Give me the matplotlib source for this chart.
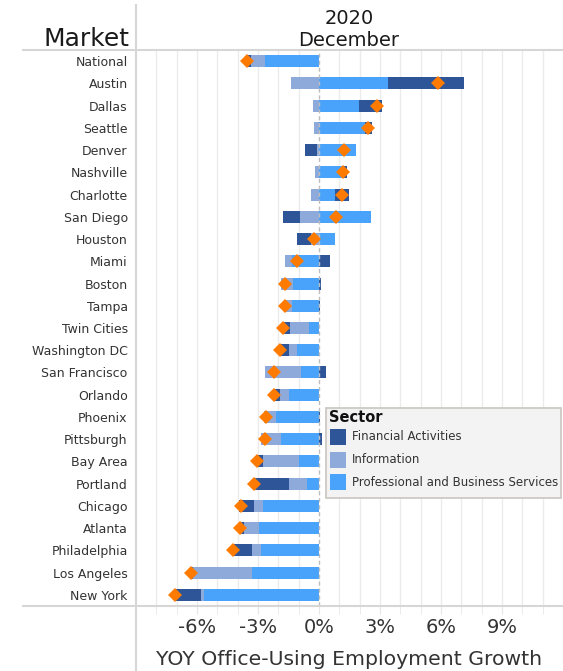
import matplotlib
matplotlib.use("Agg")
import matplotlib.pyplot as plt
import numpy as np
from matplotlib.lines import Line2D
from matplotlib.patches import Rectangle

markets = ["National", "Austin", "Dallas", "Seattle", "Denver", "Nashville", "Charlotte",
           "San Diego", "Houston", "Miami", "Boston", "Tampa", "Twin Cities", "Washington DC",
           "San Francisco", "Orlando", "Phoenix", "Pittsburgh", "Bay Area", "Portland",
           "Chicago", "Atlanta", "Philadelphia", "Los Angeles", "New York"]
fin_act = [-0.20, 3.74, 1.13, 0.34, -0.59, 0.23, 0.69, -0.84, -0.69, 0.56, 0.12, 0.07, -0.34,
           -0.44, 0.36, -0.30, 0.07, 0.16, -0.34, -1.72, -0.74, -0.25, -0.98, -0.15, -1.33]
information = [-0.69, -1.36, -0.28, -0.23, -0.08, -0.18, -0.38, -0.92, -0.38, -0.34, -0.59, -0.39,
               -0.93, -0.39, -1.77, -0.44, -0.59, -0.98, -1.77, -0.89, -0.44, -0.74, -0.44, -2.90, -0.15]
prof_bus = [-2.64, 3.41, 1.98, 2.28, 1.84, 1.16, 0.80, 2.57, 0.80, -1.31, -1.26, -1.31, -0.48,
            -1.07, -0.87, -1.46, -2.10, -1.85, -0.97, -0.57, -2.74, -2.93, -2.84, -3.28, -5.64]
total = [-3.52, 5.87, 2.84, 2.41, 1.23, 1.20, 1.13, 0.85, -0.26, -1.07, -1.67, -1.69, -1.77,
         -1.90, -2.20, -2.20, -2.59, -2.64, -3.03, -3.18, -3.85, -3.87, -4.23, -6.30, -7.08]
tick_vals = [-6, -3, 0, 3, 6, 9]
tick_labels = ["-6%", "-3%", "0%", "3%", "6%", "9%"]
sectors = ["Financial Activities", "Information", "Professional and Business Services"]

C_FIN = "#2E5597"
C_INFO = "#8EAADB"
C_PRO = "#4AA3FB"
C_TOT = "#FF7B00"
GRID = "#ebebeb"
LINE = "#d6d6d6"
TXT = "#333333"

W, H = 563, 671
fig = plt.figure(figsize=(W / 100, H / 100), dpi=100)
fig.patch.set_facecolor("white")

def fx(px):
    return px / W

def fy(py):
    return 1 - py / H

ax = fig.add_axes([fx(136), fy(606), fx(563) - fx(136), fy(50) - fy(606)])
y = np.arange(len(markets))

series = [(prof_bus, C_PRO), (information, C_INFO), (fin_act, C_FIN)]
pos_left = np.zeros(len(markets))
neg_left = np.zeros(len(markets))
for vals, col in series:
    v = np.array(vals)
    p = np.where(v > 0, v, 0)
    n = np.where(v < 0, v, 0)
    ax.barh(y, p, left=pos_left, height=0.54, color=col, zorder=3, linewidth=0)
    ax.barh(y, n, left=neg_left, height=0.54, color=col, zorder=3, linewidth=0)
    pos_left += p
    neg_left += n

ax.plot(total, y, linestyle="none", marker="D", markersize=7.5, color=C_TOT,
        markeredgewidth=0, zorder=5)

ax.set_xlim(-9, 12)
ax.set_ylim(len(markets) - 0.5, -0.5)
for g in range(-8, 12):
    if g == 0:
        continue
    ax.axvline(g, color=GRID, lw=1, zorder=0)
ax.axvline(0, color="#bdbdbd", lw=1, linestyle=(0, (3, 2)), zorder=4)

for s in ax.spines.values():
    s.set_visible(False)

ax.set_yticks(y)
ax.set_yticklabels(markets, fontsize=9, color=TXT)
ax.tick_params(axis="y", length=0, pad=6)
ax.set_xticks(tick_vals)
ax.set_xticklabels(tick_labels, fontsize=14, color=TXT)
ax.set_xticks(range(-8, 12), minor=True)
ax.tick_params(axis="x", which="both", length=6, color="#e6e6e6", pad=2.5)

# frame lines
fig.add_artist(Line2D([fx(23), fx(563)], [fy(50), fy(50)], color=LINE, lw=1.5))
fig.add_artist(Line2D([fx(23), fx(563)], [fy(606), fy(606)], color=LINE, lw=1.5))
fig.add_artist(Line2D([fx(136), fx(136)], [fy(5), fy(671)], color=LINE, lw=1.5))

# header texts
fig.text(fx(129), fy(46), "Market", fontsize=18, color="#1a1a1a", ha="right", va="baseline")
fig.text(fx(349), fy(24), "2020", fontsize=14, color="#1a1a1a", ha="center", va="baseline")
fig.text(fx(349), fy(46), "December", fontsize=14, color="#1a1a1a", ha="center", va="baseline")
fig.text(fx(349), fy(665), "YOY Office-Using Employment Growth", fontsize=14.7, color=TXT,
         ha="center", va="baseline")

# legend
fig.add_artist(Rectangle((fx(326), fy(498)), fx(561) - fx(326), fy(408) - fy(498),
                         facecolor="#f3f3f3", edgecolor="#c9c6c0", lw=1.2, zorder=10))
fig.text(fx(329), fy(417), "Sector", fontsize=10.5, fontweight="bold", color="#111111",
         ha="left", va="center", zorder=11)
for i, (name, col) in enumerate(zip(sectors, [C_FIN, C_INFO, C_PRO])):
    cy = 437 + i * 22.5
    fig.add_artist(Rectangle((fx(330), fy(cy + 8)), fx(16), 16 / H, facecolor=col,
                             edgecolor="none", zorder=11))
    fig.text(fx(352), fy(cy), name, fontsize=8.5, color=TXT, ha="left", va="center", zorder=11)

fig.savefig("out.png", dpi=100)
